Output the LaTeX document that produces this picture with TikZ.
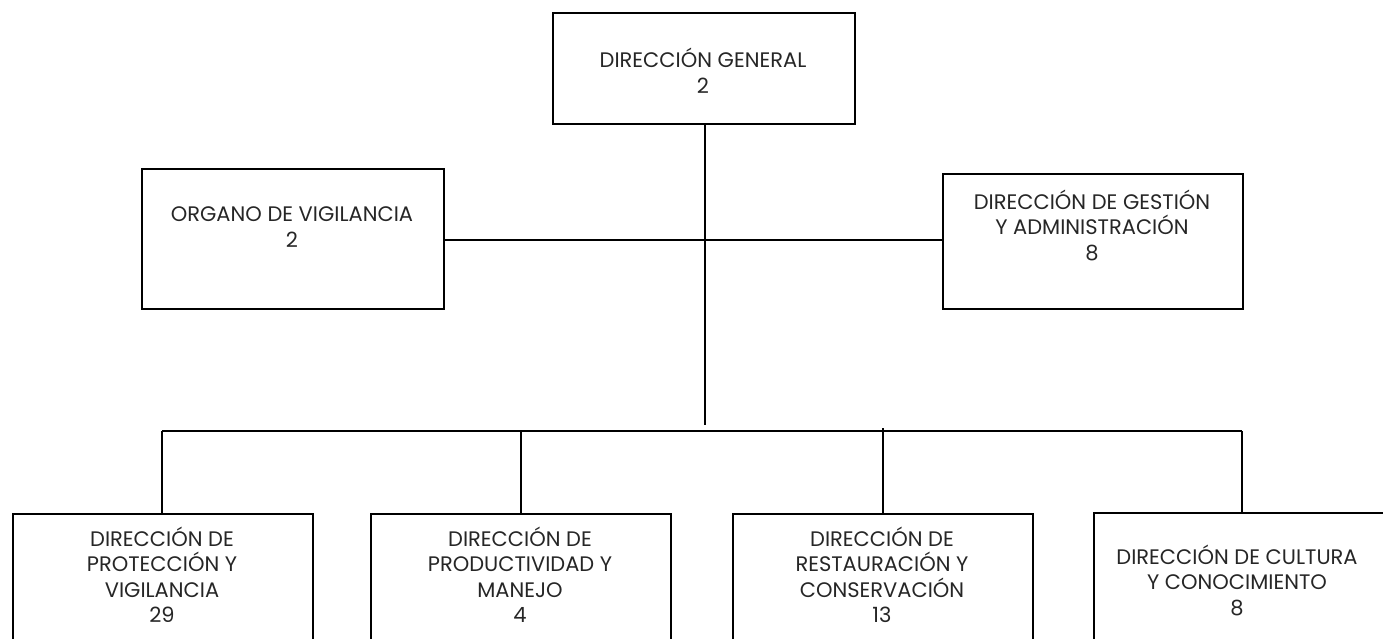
\documentclass[tikz,border=0pt]{standalone}
\usepackage{fontspec}
\setmainfont{Poppins}
\begin{document}
\begin{tikzpicture}[x=1pt,y=-1pt,
  box/.style={draw=black, line width=1.6pt, rectangle, inner sep=0pt, anchor=north west},
  txt/.style={align=center, inner sep=0pt, font=\fontsize{21}{25.5}\selectfont, text=black!85},
  link/.style={draw=black, line width=1.4pt}]
\useasboundingbox (0,0) rectangle (1383,639);
\clip (0,0) rectangle (1383,639);
% boxes
\node[box, minimum width=302pt, minimum height=111pt] (top) at (552,12) {};
\node[box, minimum width=302pt, minimum height=140pt] (org) at (141,168) {};
\node[box, minimum width=300pt, minimum height=135pt] (ges) at (942,173) {};
\node[box, minimum width=300pt, minimum height=150pt] (b1) at (12,513) {};
\node[box, minimum width=300pt, minimum height=150pt] (b2) at (370,513) {};
\node[box, minimum width=300pt, minimum height=150pt] (b3) at (732,513) {};
\node[box, minimum width=300pt, minimum height=150pt] (b4) at (1093,512) {};
% texts
\node[txt] (ttop) at (703,71) {DIRECCIÓN GENERAL\\2};
\node[txt] (torg) at (292,227) {ORGANO DE VIGILANCIA\\2};
\node[txt] (tges) at (1092,225) {DIRECCIÓN DE GESTIÓN\\Y ADMINISTRACIÓN\\8};
\node[txt] (tb1) at (162,575) {DIRECCIÓN DE\\PROTECCIÓN Y\\VIGILANCIA\\29};
\node[txt] (tb2) at (520,575) {DIRECCIÓN DE\\PRODUCTIVIDAD Y\\MANEJO\\4};
\node[txt] (tb3) at (882,575) {DIRECCIÓN DE\\RESTAURACIÓN Y\\CONSERVACIÓN\\13};
\node[txt] (tb4) at (1237,580) {DIRECCIÓN DE CULTURA\\Y CONOCIMIENTO\\8};
% connectors
\coordinate (hub) at (705,425);
\coordinate (barL) at (162,431);
\coordinate (barR) at (1242,431);
\draw[link] (top.south -| hub) -- (hub);
\draw[link] (org.east |- 0,240) -- (ges.west |- 0,240);
\draw[link] (barL) -- (barR);
\draw[link] (barL) -- (barL |- b1.north);
\draw[link] (b2.north |- barL) -- (b2.north);
\draw[link] ([yshift=3pt]b3.north |- barL) -- (b3.north);
\draw[link] (barR) -- (barR |- b4.north);
\end{tikzpicture}
\end{document}
